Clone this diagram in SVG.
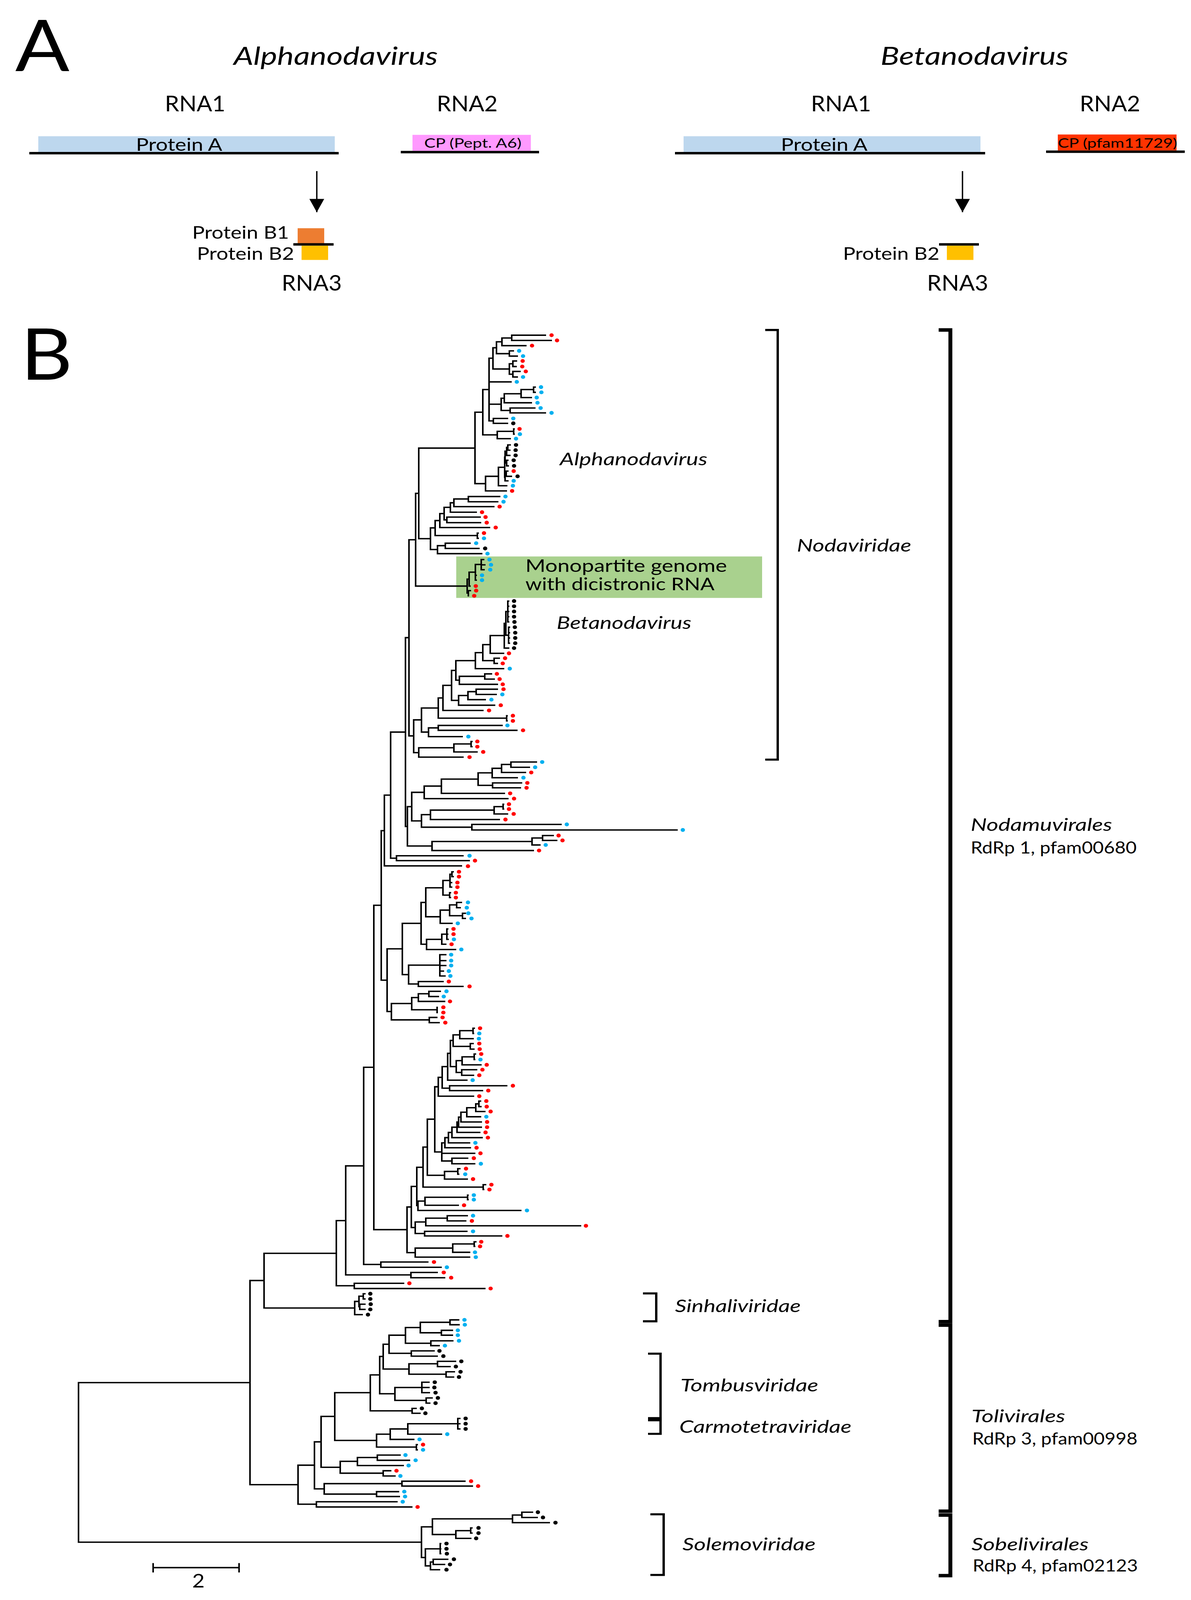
<svg xmlns="http://www.w3.org/2000/svg" width="3049" height="4596" viewBox="0 0 3049 4596">
<style>
text{font-family:Lato,"Open Sans","Liberation Sans",sans-serif;fill:#000}
.it{font-style:italic}
.t{fill:none;stroke:#000;stroke-width:4}
.d{fill:none;stroke-width:11;stroke-linecap:round}
.r{stroke:#F00}.b{stroke:#00B0F0}.k{stroke:#000}
.br{fill:none;stroke:#000;stroke-width:6}
.bb{fill:none;stroke:#000;stroke-width:10}
.ln{stroke:#000;stroke-width:7;fill:none}
.ar{stroke:#000;stroke-width:3.5;fill:none}
.pa{fill:#BDD7EE}
</style>
<defs>
<marker id="ah" markerUnits="userSpaceOnUse" markerWidth="38" markerHeight="38" viewBox="0 0 38 38" refX="38" refY="19" orient="auto"><path d="M0 0L38 19L0 38z" fill="#000"/></marker>
</defs>
<rect width="3049" height="4596" fill="#fff"/>
<g id="figure" transform="matrix(1 0 0 0.892 0 0)">
<g id="panelA">
<text x="39" y="204" font-size="205">A</text>
<g id="alpha-genome">
<text x="598" y="186" font-size="71" class="it" textLength="523" lengthAdjust="spacingAndGlyphs">Alphanodavirus</text>
<text x="422" y="320" font-size="62" textLength="155" lengthAdjust="spacingAndGlyphs">RNA1</text>
<text x="1118" y="320" font-size="62" textLength="156" lengthAdjust="spacingAndGlyphs">RNA2</text>
<g id="alpha-rna1"><rect x="98" y="391" width="759" height="46" class="pa"/><path class="ln" d="M75 439.5H867"/><text x="348" y="433" font-size="49" textLength="221" lengthAdjust="spacingAndGlyphs">Protein A</text></g>
<g id="alpha-rna2"><rect x="1056" y="387" width="303" height="46" fill="#FF99FF"/><path class="ln" d="M1026 436.5H1380"/><text x="1086" y="424" font-size="37" textLength="249" lengthAdjust="spacingAndGlyphs">CP (Pept. A6)</text></g>
<path class="ar" d="M811 491V609" marker-end="url(#ah)"/>
<g id="alpha-rna3"><rect x="762" y="655" width="68" height="44" fill="#ED7D31"/><rect x="772" y="705" width="68" height="41" fill="#FFC000"/><path class="ln" d="M751 701.5H854"/>
<text x="492" y="685" font-size="49" textLength="248" lengthAdjust="spacingAndGlyphs">Protein B1</text>
<text x="504" y="745" font-size="49" textLength="249" lengthAdjust="spacingAndGlyphs">Protein B2</text>
<text x="721" y="834" font-size="62" textLength="154" lengthAdjust="spacingAndGlyphs">RNA3</text></g>
</g>
<g id="beta-genome">
<text x="2254" y="186" font-size="71" class="it" textLength="481" lengthAdjust="spacingAndGlyphs">Betanodavirus</text>
<text x="2076" y="320" font-size="62" textLength="154" lengthAdjust="spacingAndGlyphs">RNA1</text>
<text x="2764" y="320" font-size="62" textLength="155" lengthAdjust="spacingAndGlyphs">RNA2</text>
<g id="beta-rna1"><rect x="1750" y="391" width="760" height="46" class="pa"/><path class="ln" d="M1728 439.5H2522"/><text x="1999" y="433" font-size="49" textLength="222" lengthAdjust="spacingAndGlyphs">Protein A</text></g>
<g id="beta-rna2"><rect x="2708" y="386" width="304" height="46" fill="#FF3300"/><path class="ln" d="M2678 435.5H3033"/><text x="2708" y="424" font-size="37" textLength="306" lengthAdjust="spacingAndGlyphs">CP (pfam11729)</text></g>
<path class="ar" d="M2464 491V609" marker-end="url(#ah)"/>
<g id="beta-rna3"><rect x="2424" y="705" width="68" height="41" fill="#FFC000"/><path class="ln" d="M2404 701.5H2506"/>
<text x="2158" y="745" font-size="49" textLength="247" lengthAdjust="spacingAndGlyphs">Protein B2</text>
<text x="2373" y="834" font-size="62" textLength="157" lengthAdjust="spacingAndGlyphs">RNA3</text></g>
</g>
</g>

<g id="panelB">
<text x="53" y="1090" font-size="205">B</text>
<rect id="mono-box" x="1168" y="1597" width="783" height="119" fill="#A9D18E"/>

<g id="tree-connectors">
<path class="t" d="M640 3968H201V4426H1079M676 3675H640V4261H763M861 3597H676V3754H908M885 3503H861V3690H907M931 3346H885V3659H1052M957 3063H931V3629H975M976 2598H957V3529H1042M984 2384H976V2813H991M1000 2282H984V2485H1183M1038 2101H1000V2463H1015M1187 2456H1015V2470H1203M1047 1830H1038V2372H1043M1064 1549H1047V2112H1059M1072 1416H1064V1682H1196M1216 1286H1072V1546H1102M1079 2066H1059V2160H1072"/>
<path class="t" d="M1398 962H1310V977H1413M1310 970H1285V992H1348M1316 1007H1304V1022H1326M1285 981H1271V1015H1304M1324 1036H1313V1052H1323M1333 1066H1313V1082H1326M1313 1044H1304V1074H1313M1271 998H1262V1059H1304M1372 1111H1366V1126H1372M1366 1118H1334V1141H1362M1334 1130H1291V1156H1362M1371 1171H1306V1185H1398M1291 1143H1283V1178H1306M1301 1201H1263V1215H1301M1262 1028H1252V1208H1263M1252 1096H1310M1252 1160H1283M1318 1231H1315V1246H1318M1315 1238H1273V1259H1308M1252 1118H1236V1248H1273M1308 1277H1300V1292H1307M1300 1284H1297V1307H1307M1302 1321H1297V1337H1303M1297 1295H1293V1329H1297M1302 1352H1296V1367H1311M1296 1360H1293V1380H1302M1293 1312H1292V1370H1293M1292 1341H1276V1394H1299M1276 1367H1243V1409H1298M1236 1183H1216V1388H1243"/>
<path class="t" d="M1281 1425H1199V1440H1276M1199 1432H1162V1454H1266M1162 1443H1153V1470H1221M1231 1484H1144V1500H1232M1153 1456H1137V1492H1144M1137 1474H1126V1514H1255M1226 1530H1222V1545H1226M1126 1494H1114V1537H1222M1205 1559H1140V1574H1228M1140 1566H1120V1589H1235M1114 1515H1102V1577H1120"/>
<path class="t" d="M1240 1606H1232V1635H1241M1232 1621H1243M1232 1620H1217V1665H1221M1217 1651H1221M1217 1642H1201V1682H1205M1206 1695H1199V1710H1201M1201 1662H1196V1702H1199"/>
<path class="t" d="M1304 1725H1300V1785H1304M1300 1740H1304M1300 1755H1304M1300 1770H1304M1306 1800H1302V1846H1306M1302 1816H1306M1302 1831H1306M1300 1755H1295V1823H1302M1295 1789H1291V1860H1304M1291 1824H1255V1875H1291M1280 1889H1265V1904H1275M1255 1850H1236V1896H1265M1236 1873H1217V1919H1291M1260 1934H1241V1949H1267M1241 1941H1176V1964H1275M1217 1896H1167V1952H1176M1275 1978H1219V1993H1272M1219 1985H1198V2008H1244M1198 1996H1174V2024H1268M1167 1924H1156V2010H1174M1156 1967H1134V2039H1238M1300 2054H1297V2069H1300M1134 2003H1122V2061H1297M1287 2082H1122V2096H1325M1122 2089H1097V2114H1185M1122 2032H1079V2101H1097M1210 2128H1206V2143H1210M1206 2135H1162V2158H1223M1162 2146H1072V2173H1187"/>
<path class="t" d="M1375 2187H1308V2202H1357M1308 2194H1284V2217H1347M1284 2205H1260V2232H1326M1337 2247H1261V2261H1334M1260 2218H1224V2254H1261M1224 2236H1130V2277H1293M1130 2256H1086V2292H1302M1291 2308H1288V2322H1291M1288 2315H1265V2336H1301M1265 2325H1102V2352H1280M1438 2366H1208V2382H1735M1102 2338H1079V2374H1208M1086 2274H1054V2356H1079M1418 2398H1389V2412H1427M1389 2405H1362V2425H1384M1362 2415H1106V2441H1367M1054 2315H1043V2428H1106"/>
<path class="t" d="M1162 2502H1157V2516H1162M1157 2509H1152V2546H1158M1152 2533H1158M1155 2562H1151V2576H1155M1152 2527H1134V2569H1151M1183 2590H1169V2605H1180M1193 2621H1184V2636H1193M1169 2597H1151V2628H1184M1151 2612H1127V2650H1159M1134 2548H1090V2631H1127M1148 2666H1144V2696H1149M1144 2681H1148M1144 2681H1131V2710H1143M1131 2696H1092V2725H1168M1090 2590H1078V2710H1092M1143 2740H1126V2801H1141M1126 2757H1143M1126 2771H1143M1126 2787H1137M1136 2817H1071V2831H1187M1126 2770H1046V2824H1071M1078 2650H1030V2797H1046M1129 2845H1098V2860H1124M1098 2852H1071V2874H1140M1121 2891H1119V2906H1121M1071 2863H1054V2898H1119M1120 2920H1099V2935H1126M1054 2880H1002V2927H1099M1030 2723H991V2903H1002"/>
<path class="t" d="M1216 2951H1211V2966H1214M1211 2958H1177V2981H1213M1213 2995H1204V3011H1215M1177 2970H1160V3003H1204M1219 3025H1214V3041H1217M1214 3033H1183V3056H1233M1222 3070H1182V3086H1214M1183 3044H1168V3078H1182M1160 2986H1153V3061H1168M1153 3023H1146V3100H1197M1299 3116H1151V3130H1237M1146 3061H1132V3123H1151M1132 3092H1122V3146H1214M1232 3160H1226V3176H1233M1226 3168H1218V3190H1243M1218 3179H1195V3205H1232M1195 3192H1180V3220H1234M1180 3206H1174V3235H1234M1174 3220H1170V3250H1230M1170 3235H1157V3265H1236M1157 3250H1148V3280H1204M1148 3265H1139V3294H1206M1199 3324H1157V3340H1217M1139 3280H1131V3332H1157M1131 3310H1217M1122 3119H1113V3306H1131M1179 3354H1172V3370H1176M1172 3362H1138V3384H1198M1113 3212H1094V3373H1138M1245 3400H1237V3414H1240M1094 3292H1083V3407H1237M1200 3430H1197V3443H1200M1197 3436H1088V3459H1175M1088 3447H1070V3474H1335M1083 3350H1067V3460H1070M1198 3489H1145V3504H1194M1145 3496H1090V3518H1488M1197 3534H1087V3547H1286M1090 3507H1063V3540H1087M1067 3405H1053V3523H1063M1220 3564H1214V3577H1217M1214 3570H1159V3594H1204M1159 3582H1063V3608H1204M1053 3464H1042V3595H1063"/>
<path class="t" d="M1097 3622H975V3637H1131M1121 3652H1052V3667H1140M1035 3683H907V3698H1243M936 3713H930V3728H936M936 3743H921V3758H936M930 3720H919V3750H921M919 3735H908V3773H929"/>
<path class="t" d="M1176 3788H1152V3802H1177M1160 3818H1130V3832H1160M1152 3795H1076V3825H1130M1161 3848H1103V3862H1126M1076 3810H1038V3855H1103M1113 3877H1053V3892H1121M1038 3832H996V3884H1053M1168 3907H1120V3922H1154M1165 3937H1142V3952H1163M1120 3914H1047V3944H1142M996 3858H981V3929H1047M1100 3967H1080V3997H1101M1080 3982H1100M1108 4012H1091V4027H1102M1080 3982H1011V4019H1091M981 3893H972V4000H1011M1067 4042H1055V4056H1077M972 3946H948V4049H1055M1179 4071H1172V4101H1179M1172 4086H1179M1172 4086H1044V4116H1132M1044 4101H999V4131H1061M1070 4146H1066V4161H1070M999 4116H964V4153H1066M948 3997H857V4134H964M1026 4176H966V4191H1050M966 4183H915V4206H1034M1002 4221H981V4236H1013M915 4194H871V4228H981M857 4065H822V4211H871M1192 4251H1029V4265H1211M1022 4281H964V4295H1024M1029 4258H830V4288H964M822 4138H805V4273H830M1018 4310H810V4325H1056M805 4205H763V4317H810"/>
<path class="t" d="M1365 4340H1336V4355H1377M1336 4348H1312V4370H1408M1210 4385H1205V4400H1210M1205 4393H1167V4415H1207M1312 4359H1107V4404H1167M1130 4430H1127V4459H1130M1127 4445H1130M1148 4475H1109V4490H1140M1109 4483H1102V4505H1127M1127 4445H1089V4494H1102M1107 4382H1079V4470H1089"/>
</g>

<g id="tree-tips">
<path class="d r" d="M1412 962h.01M1426 977h.01M1362 992h.01M1338 1036h.01M1337 1052h.01M1346 1066h.01M1330 1231h.01M1315 1352h.01M1311 1409h.01M1279 1454h.01M1234 1470h.01M1243 1484h.01M1246 1500h.01M1269 1514h.01M1239 1530h.01M1218 1682h.01M1219 1695h.01M1214 1710h.01M1303 1875h.01M1293 1889h.01M1287 1904h.01M1272 1934h.01M1279 1949h.01M1287 1964h.01M1289 1978h.01M1282 2024h.01M1252 2039h.01M1313 2054h.01M1313 2069h.01M1339 2096h.01M1222 2128h.01M1222 2143h.01M1237 2158h.01M1202 2173h.01M1360 2217h.01M1350 2247h.01M1348 2261h.01M1306 2277h.01M1316 2292h.01M1303 2308h.01M1303 2322h.01M1315 2336h.01M1294 2352h.01M1430 2398h.01M1440 2412h.01M1380 2441h.01M1216 2470h.01M1198 2486h.01M1175 2502h.01M1175 2516h.01M1171 2533h.01M1171 2546h.01M1167 2562h.01M1167 2576h.01M1161 2666h.01M1161 2681h.01M1156 2710h.01M1149 2817h.01M1202 2831h.01M1152 2874h.01M1135 2891h.01M1135 2906h.01M1133 2920h.01M1140 2935h.01M1229 2951h.01M1227 2995h.01M1228 3011h.01M1232 3025h.01M1246 3056h.01M1235 3070h.01M1227 3086h.01M1313 3116h.01M1250 3130h.01M1227 3146h.01M1245 3160h.01M1246 3176h.01M1256 3190h.01M1247 3220h.01M1247 3235h.01M1243 3250h.01M1249 3265h.01M1220 3294h.01M1230 3310h.01M1213 3324h.01M1193 3354h.01M1211 3384h.01M1258 3400h.01M1253 3414h.01M1188 3459h.01M1208 3504h.01M1500 3518h.01M1299 3547h.01M1232 3564h.01M1229 3577h.01M1111 3622h.01M1136 3652h.01M1155 3667h.01M1048 3683h.01M1256 3698h.01M1083 4146h.01M1015 4221h.01M1206 4251h.01M1224 4265h.01M1069 4325h.01"/>
<path class="d b" d="M1329 1007h.01M1339 1022h.01M1339 1082h.01M1323 1096h.01M1385 1111h.01M1386 1126h.01M1374 1141h.01M1376 1156h.01M1384 1171h.01M1412 1185h.01M1314 1201h.01M1331 1246h.01M1321 1259h.01M1315 1380h.01M1313 1394h.01M1294 1425h.01M1289 1440h.01M1239 1545h.01M1219 1559h.01M1248 1589h.01M1253 1606h.01M1257 1621h.01M1255 1635h.01M1234 1651h.01M1234 1665h.01M1305 1919h.01M1286 1993h.01M1258 2008h.01M1299 2082h.01M1199 2114h.01M1388 2187h.01M1370 2202h.01M1340 2232h.01M1451 2366h.01M1748 2382h.01M1397 2425h.01M1202 2456h.01M1198 2590h.01M1195 2605h.01M1199 2621h.01M1207 2636h.01M1172 2650h.01M1162 2696h.01M1181 2725h.01M1155 2740h.01M1155 2757h.01M1155 2771h.01M1149 2787h.01M1153 2801h.01M1143 2845h.01M1136 2860h.01M1227 2966h.01M1226 2981h.01M1230 3041h.01M1210 3100h.01M1245 3205h.01M1217 3280h.01M1231 3340h.01M1191 3370h.01M1213 3430h.01M1213 3443h.01M1349 3474h.01M1211 3489h.01M1211 3534h.01M1216 3594h.01M1218 3608h.01M1144 3637h.01M1189 3788h.01M1190 3802h.01M1172 3818h.01M1172 3832h.01M1175 3848h.01M1139 3862h.01M1145 4116h.01M1074 4131h.01M1083 4161h.01M1038 4176h.01M1064 4191h.01M1046 4206h.01M1025 4236h.01M1035 4281h.01M1037 4295h.01M1031 4310h.01"/>
<path class="d k" d="M1314 1215h.01M1321 1277h.01M1320 1292h.01M1320 1307h.01M1315 1321h.01M1316 1337h.01M1325 1367h.01M1242 1574h.01M1316 1725h.01M1316 1740h.01M1316 1755h.01M1316 1770h.01M1317 1785h.01M1318 1800h.01M1319 1816h.01M1319 1831h.01M1319 1846h.01M1316 1860h.01M948 3713h.01M948 3728h.01M949 3743h.01M948 3758h.01M942 3773h.01M1125 3877h.01M1135 3892h.01M1181 3907h.01M1167 3922h.01M1179 3937h.01M1175 3952h.01M1113 3967h.01M1112 3982h.01M1115 3997h.01M1121 4012h.01M1115 4027h.01M1080 4042h.01M1089 4056h.01M1192 4071h.01M1192 4086h.01M1192 4101h.01M1377 4340h.01M1390 4355h.01M1422 4370h.01M1225 4385h.01M1225 4400h.01M1219 4415h.01M1143 4430h.01M1143 4445h.01M1144 4459h.01M1162 4475h.01M1152 4490h.01M1143 4505h.01"/>
</g>

<g id="clade-labels">
<text x="1433" y="1335" font-size="51" class="it" textLength="378" lengthAdjust="spacingAndGlyphs">Alphanodavirus</text>
<text x="1345" y="1641" font-size="50" textLength="516" lengthAdjust="spacingAndGlyphs">Monopartite genome</text>
<text x="1345" y="1694" font-size="50" textLength="484" lengthAdjust="spacingAndGlyphs">with dicistronic RNA</text>
<text x="1425" y="1805" font-size="51" class="it" textLength="345" lengthAdjust="spacingAndGlyphs">Betanodavirus</text>
</g>

<g id="brackets">
<path class="br" d="M1959 947H1991V2180H1959"/>
<path class="br" d="M1646 3712H1680V3792H1646"/>
<path class="br" d="M1659 3885H1691V4070H1659"/>
<path class="br" d="M1659 4076H1691V4115H1659"/>
<path class="br" d="M1665 4346H1699V4520H1665"/>
<path class="bb" d="M2403 947H2433V3793H2403"/>
<path class="bb" d="M2403 3803H2433V4337H2403"/>
<path class="bb" d="M2403 4348H2433V4522H2403"/>
</g>

<g id="group-labels">
<text x="2040" y="1583" font-size="51" class="it" textLength="293" lengthAdjust="spacingAndGlyphs">Nodaviridae</text>
<text x="1728" y="3766" font-size="51" class="it" textLength="322" lengthAdjust="spacingAndGlyphs">Sinhaliviridae</text>
<text x="1742" y="3993" font-size="51" class="it" textLength="353" lengthAdjust="spacingAndGlyphs">Tombusviridae</text>
<text x="1739" y="4112" font-size="51" class="it" textLength="441" lengthAdjust="spacingAndGlyphs">Carmotetraviridae</text>
<text x="1747" y="4450" font-size="51" class="it" textLength="341" lengthAdjust="spacingAndGlyphs">Solemoviridae</text>
<text x="2485" y="2385" font-size="51" class="it" textLength="362" lengthAdjust="spacingAndGlyphs">Nodamuvirales</text>
<text x="2485" y="2450" font-size="48" textLength="425" lengthAdjust="spacingAndGlyphs">RdRp 1, pfam00680</text>
<text x="2487" y="4082" font-size="51" class="it" textLength="240" lengthAdjust="spacingAndGlyphs">Tolivirales</text>
<text x="2489" y="4146" font-size="48" textLength="423" lengthAdjust="spacingAndGlyphs">RdRp 3, pfam00998</text>
<text x="2487" y="4450" font-size="51" class="it" textLength="300" lengthAdjust="spacingAndGlyphs">Sobelivirales</text>
<text x="2490" y="4510" font-size="48" textLength="423" lengthAdjust="spacingAndGlyphs">RdRp 4, pfam02123</text>
</g>

<g id="scale-bar">
<path class="t" d="M392 4499H612M392 4486V4513M612 4486V4513"/>
<text x="508" y="4556" font-size="55" text-anchor="middle">2</text>
</g>
</g>
</g>
</svg>
